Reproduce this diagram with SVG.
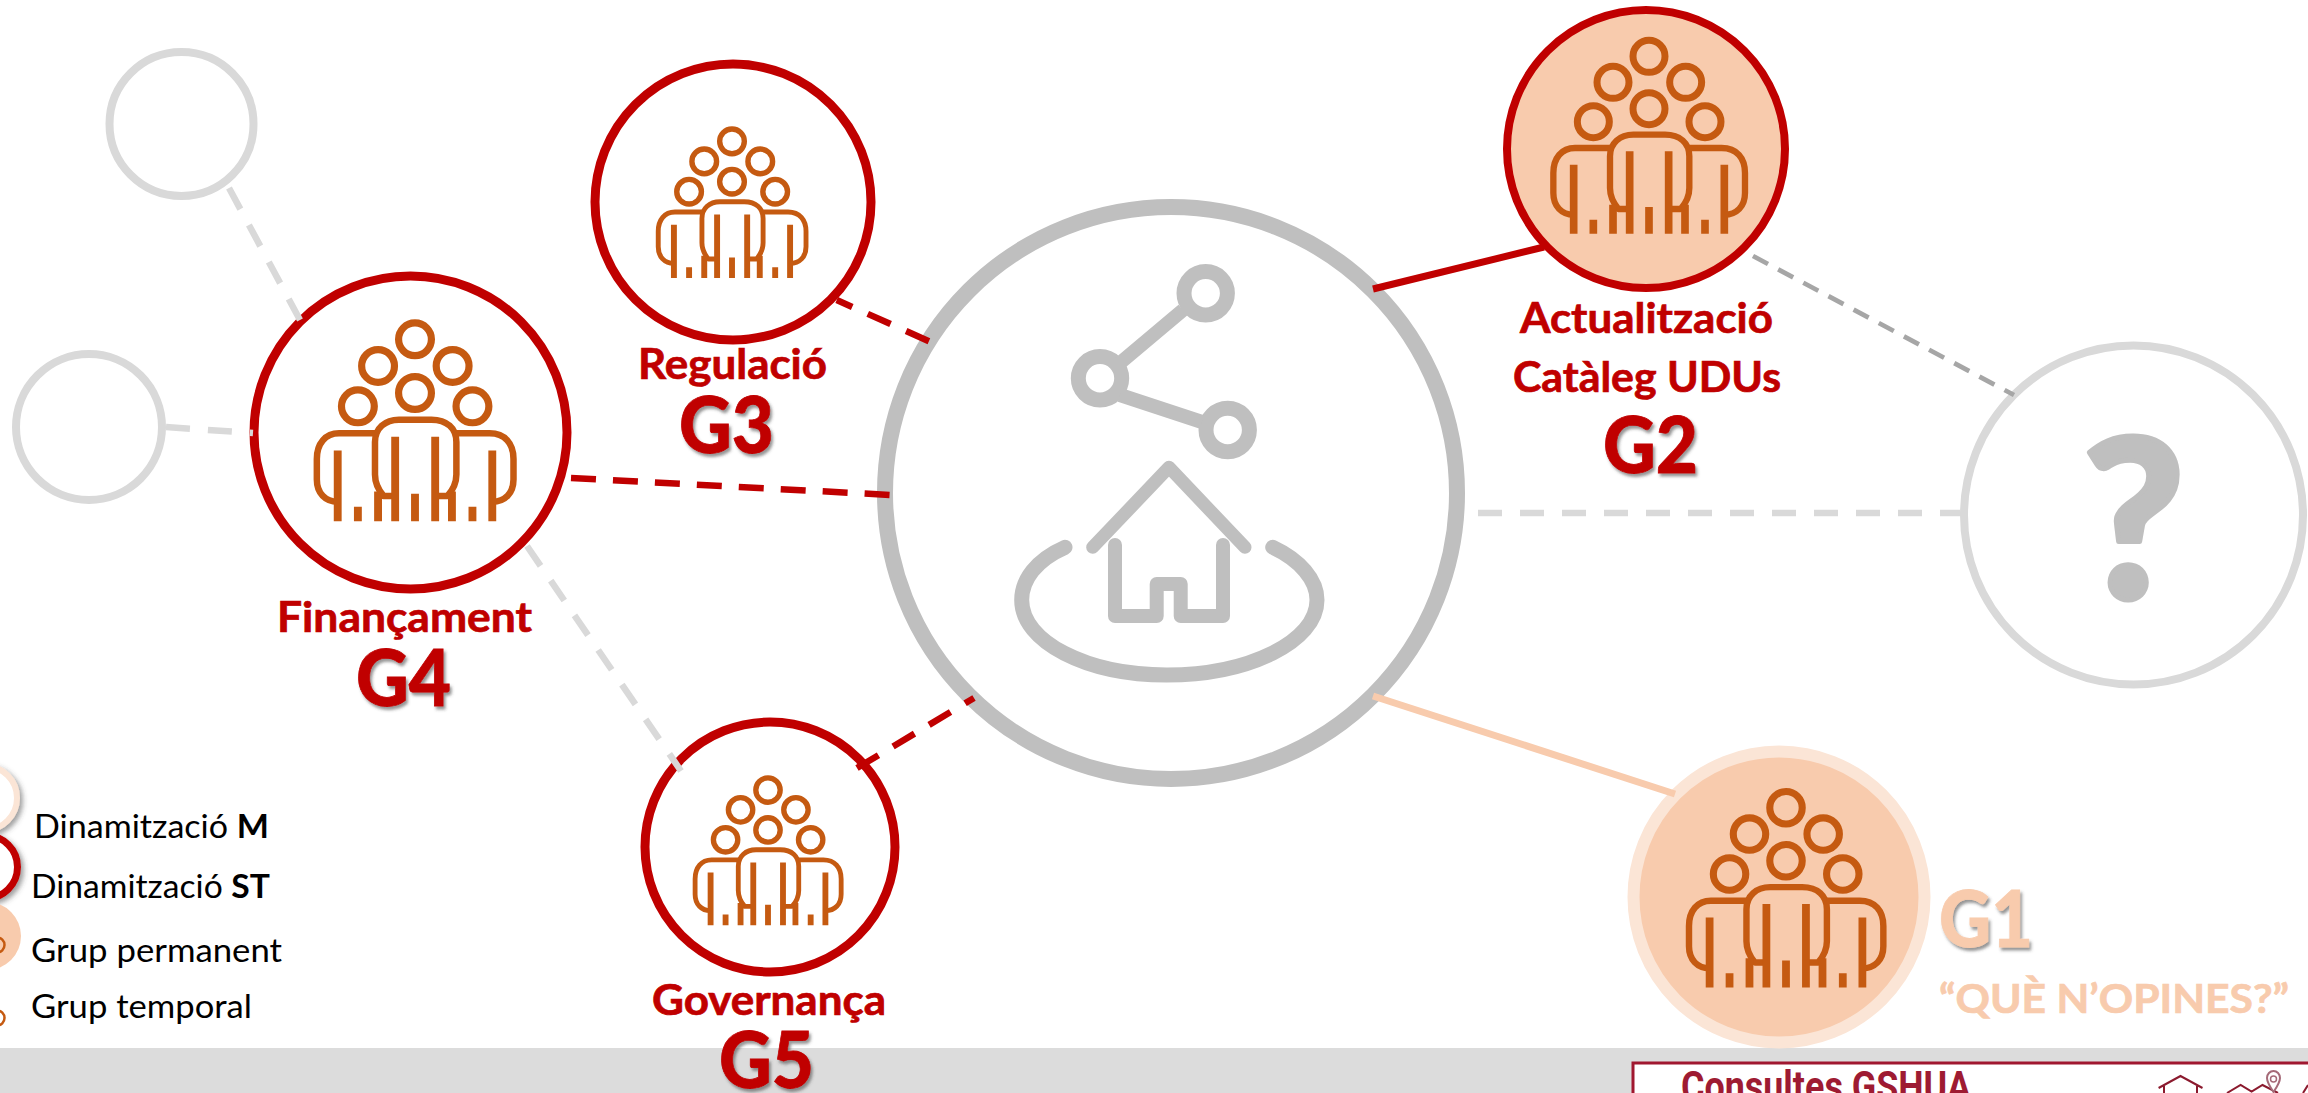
<svg xmlns="http://www.w3.org/2000/svg" width="2308" height="1093" viewBox="0 0 2308 1093">
<style>
text{font-family:"Lato","Carlito","Open Sans",sans-serif}
.lab{font-weight:700;font-size:42px;fill:#c00000;stroke:#c00000;stroke-width:.7}
.big{font-weight:900;font-size:79px;fill:#c00000;stroke:#c00000;stroke-width:.8;filter:url(#sh)}
.leg{font-size:32px;fill:#000}
.grey{fill:#fff;stroke:#d9d9d9;stroke-width:8}
.red{fill:#fff;stroke:#c00000;stroke-width:9}
.c{fill:none;stroke-linecap:butt}
.rd{stroke:#c00000;stroke-width:6.5;stroke-dasharray:25 17}
.gd{stroke:#d9d9d9;stroke-width:6.5;stroke-dasharray:24 18}
.hub{fill:none;stroke:#bfbfbf;stroke-linecap:round;stroke-linejoin:round}
.pp{fill:none;stroke:#c55a11;stroke-width:19;stroke-linejoin:round}
.pp circle{stroke-width:21}
.pp .legs{stroke-width:23}
</style>
<defs>
<filter id="sh" x="-20%" y="-20%" width="140%" height="140%"><feDropShadow dx="2" dy="3" stdDeviation="1.6" flood-color="#404040" flood-opacity="0.55"/></filter>
<filter id="sc" x="-20%" y="-20%" width="140%" height="140%"><feDropShadow dx="3" dy="3" stdDeviation="2.5" flood-color="#404040" flood-opacity="0.5"/></filter>
<g id="people" class="pp" transform="translate(-507,-406)">
<circle cx="507" cy="170" r="48"/><circle cx="399" cy="248" r="48"/><circle cx="617" cy="248" r="48"/>
<circle cx="507" cy="327" r="48"/><circle cx="340" cy="366" r="48"/><circle cx="675" cy="366" r="48"/>
<path d="M449,628 H415 C400,610 390,590 390,565 V470 C390,430 420,405 460,405 H555 C600,405 628,430 628,470 V565 C628,590 618,610 602,628 H566"/>
<path d="M390,445 H285 C245,445 220,475 220,520 V580 C220,620 245,645 281,645"/>
<path d="M628,445 H725 C770,445 795,475 795,520 V580 C795,620 770,645 733,645"/>
<path class="legs" d="M281,495 V702 M340,660 V702 M399,615 V702 M449,455 V702 M507,622 V702 M566,455 V702 M615,615 V702 M675,660 V702 M733,495 V702"/>
</g>
</defs>
<rect width="2308" height="1093" fill="#fff"/>
<rect id="band" x="0" y="1048" width="2308" height="45" fill="#dcdcdc"/>
<g id="consultes">
<rect x="1633" y="1063" width="690" height="40" fill="#fff" stroke="#a0172f" stroke-width="3"/>
<text x="1681" y="1101" font-size="42" font-weight="700" fill="#9e1b32" textLength="290" lengthAdjust="spacingAndGlyphs" style="font-family:'Liberation Sans Narrow','Roboto',sans-serif">Consultes GSHUA</text>
<path d="M2158.6,1088 L2180.5,1076 L2202.5,1088 M2164,1086 V1093 M2197,1086 V1093" fill="none" stroke="#8b1a2e" stroke-width="2"/>
<path d="M2227,1093 L2240.6,1085 L2251.6,1091.7 L2262.5,1085 L2278,1093 M2303,1093 L2308,1085" fill="none" stroke="#8b1a2e" stroke-width="2"/>
<path d="M2273.5,1092 C2268,1084 2267,1081 2267,1078 C2267,1074 2270,1071 2273.5,1071 C2277,1071 2280,1074 2280,1078 C2280,1081 2279,1084 2273.5,1092 Z" fill="#fff" stroke="#a56a78" stroke-width="2"/>
<circle cx="2273.5" cy="1079" r="3" fill="none" stroke="#a56a78" stroke-width="1.5"/>
</g>
<g id="legend">
<circle cx="-15" cy="798" r="32" fill="#fff" stroke="#fbe5d6" stroke-width="6" filter="url(#sc)"/>
<circle cx="-14" cy="867" r="31.500" fill="#fff" stroke="#c00000" stroke-width="7" filter="url(#sc)"/>
<circle cx="-13" cy="936" r="34" fill="#f8cbad"/>
<circle cx="-3" cy="945" r="7.500" fill="none" stroke="#c55a11" stroke-width="2.500"/>
<circle cx="-3" cy="1018" r="7.500" fill="none" stroke="#c55a11" stroke-width="2.500"/>
<text class="leg" x="34" y="838" textLength="235" lengthAdjust="spacingAndGlyphs">Dinamització <tspan font-weight="700">M</tspan></text>
<text class="leg" x="31" y="898" textLength="239" lengthAdjust="spacingAndGlyphs">Dinamització <tspan font-weight="700">ST</tspan></text>
<text class="leg" x="31" y="962" textLength="251" lengthAdjust="spacingAndGlyphs">Grup permanent</text>
<text class="leg" x="31" y="1018" textLength="221" lengthAdjust="spacingAndGlyphs">Grup temporal</text>
</g>
<g id="ext-top"><circle class="grey" cx="181.500" cy="124" r="72"/></g>
<g id="ext-left"><circle class="grey" cx="89" cy="427" r="73"/></g>
<g id="ext-question">
<circle class="grey" cx="2133.500" cy="515" r="169.500"/>
<text x="2082" y="598" font-size="222" font-weight="900" fill="#bfbfbf" stroke="#bfbfbf" stroke-width="5" stroke-linejoin="round">?</text>
</g>
<g id="hub">
<circle cx="1171" cy="493" r="286" fill="#fff" stroke="#bfbfbf" stroke-width="16"/>
<g class="hub">
<circle cx="1205.700" cy="293.300" r="21.700" stroke-width="15"/>
<circle cx="1100" cy="378.300" r="21.700" stroke-width="15"/>
<circle cx="1227.700" cy="430" r="21.700" stroke-width="15"/>
<path d="M1120,363 L1183,310 M1120,395 L1202,422" stroke-width="14" stroke-linecap="butt"/>
<path d="M1092.700,547.300 L1169,467.300 L1245,547.300" stroke-width="13"/>
<path d="M1115,545 V616 H1156.700 V584 H1180.700 V616 H1223 V545" stroke-width="14"/>
<path d="M1065,547.300 C1036,560 1021.700,580 1021.700,600 C1021.700,642 1087,675 1166.700,675 C1248,675 1317,642 1317,600 C1317,580 1300,560 1272.700,547.300" stroke-width="15"/>
</g>
</g>
<g id="g2">
<circle cx="1646" cy="149" r="139" fill="#f8cbad" stroke="#c00000" stroke-width="8"/>
<use href="#people" transform="translate(1649,135) scale(.3333)"/>
<text class="lab" x="1520" y="333" textLength="253" lengthAdjust="spacingAndGlyphs">Actualització</text>
<text class="lab" x="1513" y="392" textLength="268" lengthAdjust="spacingAndGlyphs">Catàleg UDUs</text>
<text class="big" x="1603" y="473" textLength="95" lengthAdjust="spacingAndGlyphs">G2</text>
</g>
<g id="g3">
<circle class="red" cx="733" cy="202" r="138"/>
<use href="#people" transform="translate(732,202) scale(.257)"/>
<text class="lab" x="638" y="379" textLength="189" lengthAdjust="spacingAndGlyphs">Regulació</text>
<text class="big" x="679" y="453" textLength="95" lengthAdjust="spacingAndGlyphs">G3</text>
</g>
<g id="g4">
<circle class="red" cx="410.500" cy="432.500" r="156.500"/>
<use href="#people" transform="translate(415,420) scale(.342)"/>
<text class="lab" x="277" y="632" textLength="255" lengthAdjust="spacingAndGlyphs">Finançament</text>
<text class="big" x="356" y="706" textLength="95" lengthAdjust="spacingAndGlyphs">G4</text>
</g>
<g id="g5">
<circle class="red" cx="770" cy="847" r="125"/>
<use href="#people" transform="translate(768,850) scale(.254)"/>
<text class="lab" x="652" y="1015" textLength="234" lengthAdjust="spacingAndGlyphs">Governança</text>
<text class="big" x="719" y="1088" textLength="95" lengthAdjust="spacingAndGlyphs">G5</text>
</g>
<g id="g1">
<circle cx="1779" cy="897" r="145.500" fill="#f8cbad" stroke="#fbe5d6" stroke-width="12"/>
<use href="#people" transform="translate(1786,887.500) scale(.338)"/>
<text class="big" x="1939" y="947" style="fill:#f8cbad;stroke:#f8cbad" textLength="94" lengthAdjust="spacingAndGlyphs">G1</text>
<text x="1939" y="1013" font-size="41" font-weight="700" fill="#f8cbad" stroke="#f8cbad" stroke-width=".7" textLength="350" lengthAdjust="spacingAndGlyphs">“QUÈ N’OPINES?”</text>
</g>
<g id="connectors">
<line class="c gd" x1="229" y1="188" x2="300" y2="320"/>
<line class="c gd" x1="166" y1="427" x2="253" y2="433"/>
<line class="c gd" x1="527" y1="546" x2="681" y2="771"/>
<line class="c gd" x1="1478" y1="513" x2="1960" y2="513"/>
<line class="c rd" x1="836.700" y1="300" x2="930" y2="341.700" stroke-dashoffset="8"/>
<line class="c rd" x1="571" y1="478" x2="891" y2="495"/>
<line class="c rd" x1="857" y1="768" x2="974" y2="698"/>
<line class="c" x1="1373" y1="289" x2="1544" y2="247" stroke="#c00000" stroke-width="7"/>
<line class="c" x1="1373" y1="696" x2="1675" y2="794" stroke="#f8cbad" stroke-width="7"/>
<line class="c" x1="1753" y1="256" x2="2014" y2="395" stroke="#a6a6a6" stroke-width="4.700" stroke-dasharray="17 11.500"/>
</g>
</svg>
